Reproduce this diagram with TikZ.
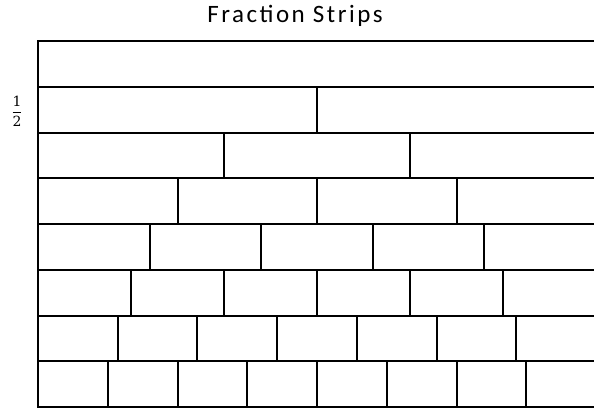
\documentclass[tikz,border=0pt]{standalone}
\usepackage{fontspec}
\setmainfont{Carlito}
\newfontfamily\titlefont[LetterSpace=10]{Carlito}
\newfontfamily\fracfont{DejaVu Serif}
\begin{document}
\begin{tikzpicture}[x=1pt,y=-1pt,
  strip/.style={line width=2pt, line cap=rect},
  titletext/.style={font=\titlefont\fontsize{25}{29}\selectfont, inner sep=0pt, anchor=base},
  fractext/.style={font=\fracfont\fontsize{14}{17}\selectfont, inner sep=0pt}]
\useasboundingbox (0,0) rectangle (594,410);
\clip (0,0) rectangle (594,410);
\node[titletext] (title) at (295,22.7) {Fraction Strips};
\node[fractext] (half) at (17,111) {$\displaystyle\frac{\hbox{1}}{\hbox{2}}$};
\foreach \n in {1,...,8} {
  \pgfmathsetmacro\ytop{41+(\n-1)*45.75}
  \pgfmathsetmacro\ybot{41+\n*45.75}
  \draw[strip] (38,\ytop) rectangle (596,\ybot);
  \ifnum\n>1
    \foreach \k in {2,...,\n} {
      \pgfmathsetmacro\xx{38+(\k-1)*558/\n}
      \draw[strip] (\xx,\ytop) -- (\xx,\ybot);
    }
  \fi
}
\end{tikzpicture}
\end{document}
